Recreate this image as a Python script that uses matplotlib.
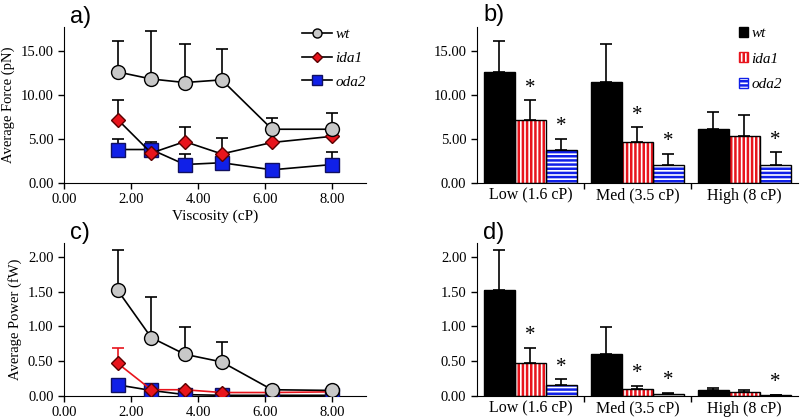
import numpy as np
import matplotlib
matplotlib.use("Agg")
import matplotlib.pyplot as plt
from matplotlib.lines import Line2D
from matplotlib.patches import Patch

# line panels: viscosity (cP)
viscosity = [1.6, 2.6, 3.6, 4.7, 6.2, 8.0]

force_wt = [12.6, 11.8, 11.4, 11.7, 6.1, 6.1]
force_wt_err = [3.5, 5.4, 4.4, 3.5, 1.3, 1.8]
force_ida1 = [7.2, 3.4, 4.7, 3.3, 4.6, 5.3]
force_ida1_err = [2.2, 0.0, 1.6, 1.8, 0.0, 0.0]
force_oda2 = [3.8, 3.8, 2.1, 2.3, 1.5, 2.1]
force_oda2_err = [1.2, 0.8, 1.2, 0.0, 0.0, 1.4]

power_wt = [1.52, 0.84, 0.60, 0.49, 0.09, 0.08]
power_wt_err = [0.58, 0.58, 0.39, 0.28, 0.0, 0.0]
power_ida1 = [0.47, 0.09, 0.09, 0.05, 0.05, 0.06]
power_ida1_err = [0.22, 0.0, 0.0, 0.0, 0.0, 0.0]
power_oda2 = [0.16, 0.08, 0.02, 0.01, 0.01, 0.01]

# bar panels
groups = ["Low (1.6 cP)", "Med (3.5 cP)", "High (8 cP)"]
bar_force = {"wt": [12.6, 11.5, 6.1], "ida1": [7.2, 4.7, 5.3], "oda2": [3.8, 2.1, 2.0]}
bar_force_err = {"wt": [3.5, 4.3, 1.9], "ida1": [2.2, 1.6, 2.4], "oda2": [1.2, 1.2, 1.5]}
bar_power = {"wt": [1.53, 0.60, 0.08], "ida1": [0.47, 0.10, 0.06], "oda2": [0.16, 0.03, 0.01]}
bar_power_err = {"wt": [0.57, 0.39, 0.04], "ida1": [0.22, 0.05, 0.03], "oda2": [0.08, 0.02, 0.01]}
force_stars = {"ida1": [0, 1], "oda2": [0, 1, 2]}
power_stars = {"ida1": [0, 1], "oda2": [0, 1, 2]}

plt.rcParams['font.family'] = ['Liberation Serif', 'DejaVu Serif']
plt.rcParams['hatch.linewidth'] = 1.8

fig = plt.figure(figsize=(8, 4.19), dpi=100)
ax_a = fig.add_axes([0.08, 0.5632, 0.3775, 0.3724])
ax_b = fig.add_axes([0.596, 0.5632, 0.4015, 0.3724])
ax_c = fig.add_axes([0.08, 0.0549, 0.3775, 0.3651])
ax_d = fig.add_axes([0.596, 0.0549, 0.4015, 0.3651])

styles = {
    "wt": dict(marker="o", mfc="#c8c8c8", mec="black", ms=10),
    "ida1": dict(marker="D", mfc="#e8141c", mec="#5a0000", ms=7.5),
    "oda2": dict(marker="s", mfc="#1020e8", mec="#101060", ms=10),
}


def style_axes(ax, ymax, yticks):
    for s in ["top", "right"]:
        ax.spines[s].set_visible(False)
    ax.set_ylim(0, ymax)
    ax.set_yticks(yticks)
    ax.set_yticklabels(["%.2f" % t for t in yticks])
    ax.tick_params(direction="out", length=4, labelsize=10.5, width=1)


def line_panel(ax, data, errs, colors, ymax, yticks):
    for name, z in zip(["oda2", "ida1", "wt"], [3, 4, 5]):
        y = data[name]
        e = errs.get(name)
        if e is not None:
            ax.errorbar(viscosity, y, yerr=[np.zeros(len(e)), e], fmt="none",
                        ecolor=colors[name], elinewidth=1.2, capsize=4, capthick=1.2, zorder=z - 0.5)
        ax.plot(viscosity, y, color=colors[name], lw=1.2, zorder=z, label=name, **styles[name])
    ax.set_xlim(0, 9)
    ax.set_xticks([0, 2, 4, 6, 8])
    ax.set_xticklabels(["0.00", "2.00", "4.00", "6.00", "8.00"])
    style_axes(ax, ymax, yticks)


def bar_panel(ax, data, errs, stars, ymax, yticks, star_off):
    x = np.arange(len(groups))
    w = 0.29
    looks = {
        "wt": dict(face="black", hatch=None, hc="black"),
        "ida1": dict(face="white", hatch="||||", hc="#e8141c"),
        "oda2": dict(face="white", hatch="----", hc="#1020e8"),
    }
    for i, name in enumerate(["wt", "ida1", "oda2"]):
        xs = x + (i - 1) * w
        lk = looks[name]
        ax.bar(xs, data[name], w, color=lk["face"], edgecolor=lk["hc"], hatch=lk["hatch"], lw=0, zorder=2)
        ax.bar(xs, data[name], w, fill=False, edgecolor="black", lw=1, zorder=3)
        ax.errorbar(xs, data[name], yerr=[np.zeros(3), errs[name]], fmt="none",
                    ecolor="black", elinewidth=1.2, capsize=4, capthick=1.2, zorder=4)
        for k in stars.get(name, []):
            top = data[name][k] + errs[name][k]
            ax.text(xs[k], top + star_off, "*", ha="center", va="bottom", fontsize=15)
    ax.set_xlim(-0.5, 2.5)
    ax.set_xticks([0.5, 1.5])
    ax.set_xticklabels([])
    ax.set_xticks(x, minor=True)
    ax.set_xticklabels(groups, minor=True)
    style_axes(ax, ymax, yticks)
    ax.tick_params(axis="x", which="minor", length=0, labelsize=11.5)


black = {"wt": "black", "ida1": "black", "oda2": "black"}
line_panel(ax_a, {"wt": force_wt, "ida1": force_ida1, "oda2": force_oda2},
           {"wt": force_wt_err, "ida1": force_ida1_err, "oda2": force_oda2_err},
           black, 17.7, [0, 5, 10, 15])
ax_a.set_ylabel("Average Force (pN)", fontsize=10.5)
ax_a.set_xlabel("Viscosity (cP)", fontsize=11, labelpad=2)

line_panel(ax_c, {"wt": power_wt, "ida1": power_ida1, "oda2": power_oda2},
           {"wt": power_wt_err, "ida1": power_ida1_err},
           {"wt": "black", "ida1": "#e8141c", "oda2": "black"}, 2.2, [0, 0.5, 1.0, 1.5, 2.0])
ax_c.set_ylabel("Average Power (fW)", fontsize=10.5)

bar_panel(ax_b, bar_force, bar_force_err, force_stars, 17.7, [0, 5, 10, 15], 0.3)
bar_panel(ax_d, bar_power, bar_power_err, power_stars, 2.2, [0, 0.5, 1.0, 1.5, 2.0], 0.04)

# legends
handles = [Line2D([], [], color="black", lw=1.2, **styles[n]) for n in ["wt", "ida1", "oda2"]]
ax_a.legend(handles, ["wt", "ida1", "oda2"], loc="upper right", bbox_to_anchor=(1.0, 0.995),
            frameon=False, prop={"style": "italic", "size": 11}, handlelength=2.0,
            labelspacing=0.65, handletextpad=0.2, markerscale=0.65, borderaxespad=0, borderpad=0)
patches = [Patch(facecolor="black", edgecolor="black"),
           Patch(facecolor="white", edgecolor="#e8141c", hatch="||||"),
           Patch(facecolor="white", edgecolor="#1020e8", hatch="----")]
ax_b.legend(patches, ["wt", "ida1", "oda2"], loc="upper right", bbox_to_anchor=(0.95, 1.0),
            frameon=False, prop={"style": "italic", "size": 11}, handlelength=0.6, handleheight=0.6,
            labelspacing=0.8, handletextpad=0.2, borderaxespad=0, borderpad=0)

for lab, x, y in [("a)", 0.088, 0.96), ("b)", 0.604, 0.965), ("c)", 0.088, 0.445), ("d)", 0.604, 0.445)]:
    fig.text(x, y, lab, fontsize=17, family="Liberation Sans", va="center", ha="left")

fig.savefig("out.png", dpi=100)
